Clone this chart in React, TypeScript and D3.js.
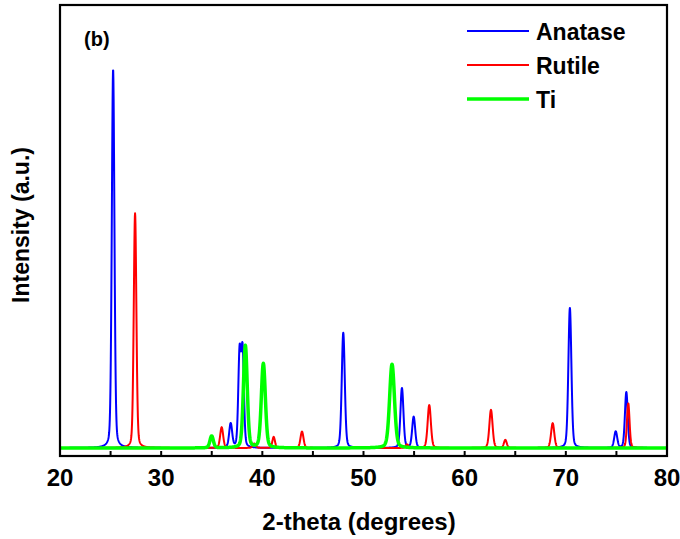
import React from "react";
import * as d3 from "d3";

// Peak positions (2-theta, degrees), heights (a.u.) and widths (sigma, degrees)
const anataseCenters = [25.25, 36.87, 37.75, 38.05, 48.0, 53.8, 54.96, 70.4, 74.93, 75.98];
const anataseHeights = [855, 54, 210, 214, 260, 135, 70, 316, 37, 126];
const anataseWidths = [0.13, 0.15, 0.13, 0.13, 0.15, 0.15, 0.15, 0.15, 0.15, 0.14];

const rutileCenters = [27.42, 35.98, 39.2, 41.12, 43.92, 54.3, 56.5, 62.6, 64.02, 68.7, 76.17];
const rutileHeights = [530, 47, 10, 25, 37, 8, 97, 86, 18, 56, 101];
const rutileWidths = [0.13, 0.15, 0.15, 0.13, 0.15, 0.15, 0.16, 0.16, 0.14, 0.16, 0.13];

const tiCenters = [34.99, 38.32, 40.1, 52.82];
const tiHeights = [27, 231, 190, 189];
const tiWidths = [0.17, 0.19, 0.2, 0.24];

const xTicks = [20, 30, 40, 50, 60, 70, 80];
const xMinorTicks = [25, 35, 45, 55, 65, 75];

const seriesNames = ["Anatase", "Rutile", "Ti"];
const seriesColors = ["#0000ff", "#ff0000", "#00ff00"];

function profile(centers: number[], heights: number[], widths: number[]) {
  const eta = 0.25;
  const pts: [number, number][] = [];
  for (let i = 0; i <= 3000; i++) {
    const x = 20 + i * 0.02;
    let y = 0;
    for (let k = 0; k < centers.length; k++) {
      const d = (x - centers[k]) / widths[k];
      const g = Math.exp(-0.5 * d * d);
      const hw = 1.1775 * widths[k];
      const l = 1 / (1 + ((x - centers[k]) / hw) ** 2);
      y += heights[k] * ((1 - eta) * g + eta * l);
    }
    pts.push([x, y]);
  }
  return pts;
}

export default function App() {
  const W = 680, H = 539;
  const left = 60, right = 667, top = 5, bottom = 456;
  const x = d3.scaleLinear().domain([20, 80]).range([left, right]);
  const y = d3.scaleLinear().domain([0, 1000]).range([448, top]);
  const line = d3.line<[number, number]>().x(d => x(d[0])).y(d => y(d[1]));

  const series = [
    profile(anataseCenters, anataseHeights, anataseWidths),
    profile(rutileCenters, rutileHeights, rutileWidths),
    profile(tiCenters, tiHeights, tiWidths),
  ];
  const widthsPx = [2, 2, 3.5];
  const font = "Arial, 'Liberation Sans', sans-serif";

  return (
    <svg width={W} height={H} style={{ position: "absolute", left: 0, top: 0, background: "#fff" }}>
      <defs>
        <clipPath id="plot">
          <rect x={left} y={top} width={right - left} height={bottom - top} />
        </clipPath>
      </defs>
      <g clipPath="url(#plot)">
        {series.map((s, i) => (
          <path key={i} d={line(s) || ""} fill="none" stroke={seriesColors[i]}
            strokeWidth={widthsPx[i]} strokeLinejoin="round" />
        ))}
      </g>
      <rect x={left} y={top} width={right - left} height={bottom - top} fill="none" stroke="#000" strokeWidth={2.2} />
      {xTicks.map(t => (
        <g key={"t" + t}>
          <line x1={x(t)} x2={x(t)} y1={bottom} y2={bottom - 5} stroke="#000" strokeWidth={2} />
          <text x={x(t)} y={486} textAnchor="middle" fontFamily={font} fontWeight="bold" fontSize={24}>{t}</text>
        </g>
      ))}
      {xMinorTicks.map(t => (
        <line key={"m" + t} x1={x(t)} x2={x(t)} y1={bottom} y2={bottom - 5} stroke="#000" strokeWidth={2} />
      ))}
      <text x={359} y={530} textAnchor="middle" fontFamily={font} fontWeight="bold" fontSize={24}>2-theta (degrees)</text>
      <text transform="translate(29,225) rotate(-90)" textAnchor="middle" fontFamily={font} fontWeight="bold" fontSize={23}>Intensity (a.u.)</text>
      <text x={84} y={46} fontFamily={font} fontWeight="bold" fontSize={20}>(b)</text>
      {seriesNames.map((n, i) => {
        const ly = 31 + i * 34;
        return (
          <g key={n}>
            <line x1={467} x2={529} y1={ly} y2={ly} stroke={seriesColors[i]} strokeWidth={widthsPx[i]} />
            <text x={536} y={ly + 9} fontFamily={font} fontWeight="bold" fontSize={23}>{n}</text>
          </g>
        );
      })}
    </svg>
  );
}
